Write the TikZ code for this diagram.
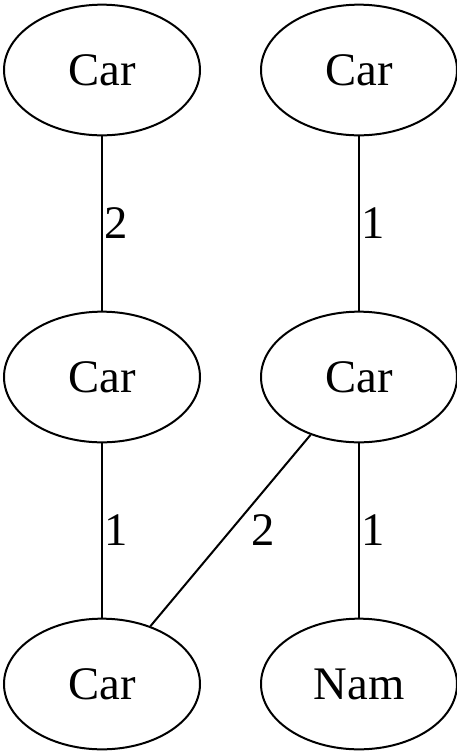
\documentclass[tikz,border=0pt]{standalone}
\usepackage{fontspec}
\setmainfont{Liberation Serif}
\usetikzlibrary{positioning,shapes.geometric}

\begin{document}
\begin{tikzpicture}[x=0.75pt,y=-0.75pt,font=\fontsize{35}{40}\selectfont,line width=1.5pt,
  ent/.style={draw,ellipse,minimum width=147pt,minimum height=98pt,inner sep=0pt},
  wt/.style={midway,right,inner sep=1pt}]
  \useasboundingbox (0,0) rectangle (457,751);
  \node[ent] (carA) at (102,70) {Car};
  \node[ent] (carB) at (359,70) {Car};
  \node[ent] (carC) at (102,377) {Car};
  \node[ent] (carD) at (359,377) {Car};
  \node[ent] (carE) at (102,684) {Car};
  \node[ent] (nam) at (359,684) {Nam};
  \draw (carA)--node[wt]{2}(carC);
  \draw (carB)--node[wt]{1}(carD);
  \draw (carC)--node[wt]{1}(carE);
  \draw (carD)--node[wt,xshift=14pt]{2}(carE);
  \draw (carD)--node[wt]{1}(nam);
\end{tikzpicture}
\end{document}
